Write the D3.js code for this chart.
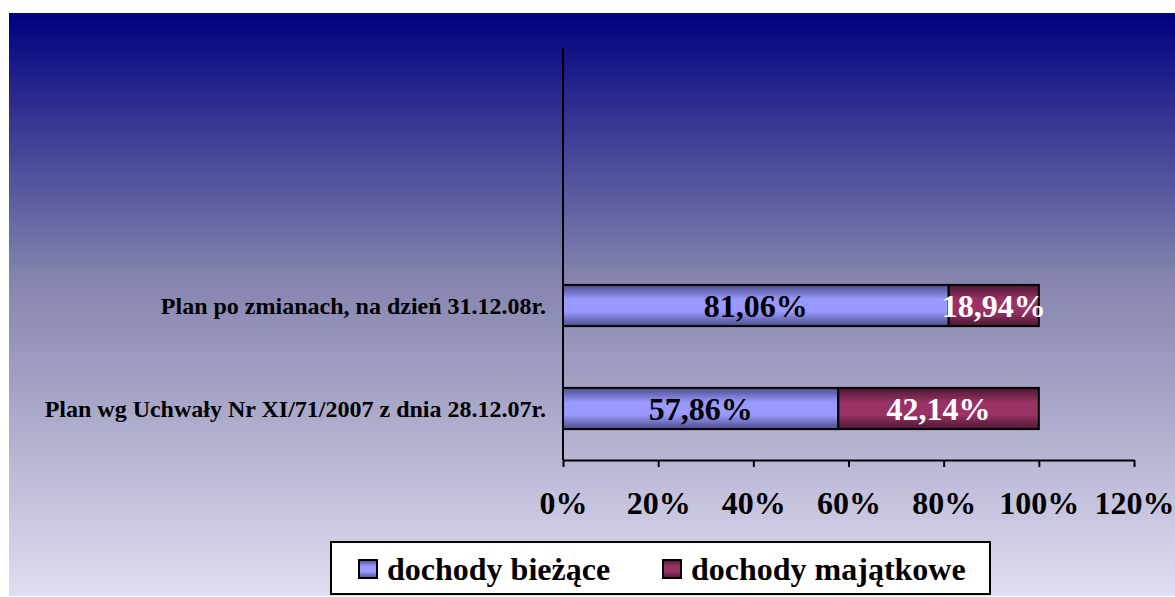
<!DOCTYPE html>
<html><head><meta charset="utf-8">
<script src="https://cdn.jsdelivr.net/npm/d3@7"></script>
<style>html,body{margin:0;padding:0;background:#fff;}svg{display:block;}</style>
</head><body>
<script>
const categories = ["Plan wg Uchwały Nr XI/71/2007 z dnia 28.12.07r.", "Plan po zmianach, na dzień 31.12.08r."];
const seriesNames = ["dochody bieżące", "dochody majątkowe"];
const biezace = [57.86, 81.06];
const majatkowe = [42.14, 18.94];
const tickValues = [0, 20, 40, 60, 80, 100, 120];
const labelText = v => v.toFixed(2).replace(".", ",") + "%";

const W = 1175, H = 597;
const svg = d3.select("body").append("svg").attr("width", W).attr("height", H);
const defs = svg.append("defs");
const bg = defs.append("linearGradient").attr("id","bg").attr("x1",0).attr("y1",0).attr("x2",0).attr("y2",1);
bg.append("stop").attr("offset","0%").attr("stop-color","#000080");
bg.append("stop").attr("offset","45%").attr("stop-color","#8383AE");
bg.append("stop").attr("offset","100%").attr("stop-color","#E0DDF0");
function barGrad(id, edge, mid){
  const g = defs.append("linearGradient").attr("id",id).attr("x1",0).attr("y1",0).attr("x2",0).attr("y2",1);
  g.append("stop").attr("offset","0%").attr("stop-color",edge);
  g.append("stop").attr("offset","35%").attr("stop-color",mid);
  g.append("stop").attr("offset","65%").attr("stop-color",mid);
  g.append("stop").attr("offset","100%").attr("stop-color",edge);
}
barGrad("gb","#4C4C88","#9999FF");
barGrad("gm","#4A1830","#993366");
const colors = ["url(#gb)","url(#gm)"];

svg.append("rect").attr("x",9).attr("y",13).attr("width",W-9).attr("height",H-14).attr("fill","url(#bg)");

const x0 = 563, x1 = 1134, yAxis = 460, yTop = 48;
const x = d3.scaleLinear().domain([0,120]).range([x0,x1]);
const step = (yAxis - yTop)/4;
const y = d3.scaleBand().domain([categories[1], categories[0]]).range([yAxis - 2*step, yAxis]).paddingInner(0.6).paddingOuter(0.3);

const font = "'Liberation Serif','Times New Roman',serif";

// bars
const data = categories.map((c,i)=>({c, vals:[biezace[i], majatkowe[i]]}));
data.forEach(d=>{
  let acc = 0;
  d.vals.forEach((v,k)=>{
    svg.append("rect").attr("x",x(acc)).attr("y",y(d.c)).attr("width",x(acc+v)-x(acc)).attr("height",y.bandwidth())
      .attr("fill",colors[k]).attr("stroke","#000").attr("stroke-width",2);
    acc += v;
  });
  acc = 0;
  d.vals.forEach((v,k)=>{
    svg.append("text").attr("x",(x(acc)+x(acc+v))/2).attr("y",y(d.c)+y.bandwidth()/2).attr("dy","0.35em")
      .attr("text-anchor","middle").attr("font-family",font).attr("font-weight","bold").attr("font-size",32)
      .attr("fill", k===0 ? "#000" : "#fff").text(labelText(v));
    acc += v;
  });
});

// y axis line
svg.append("line").attr("x1",x0).attr("x2",x0).attr("y1",yTop).attr("y2",yAxis).attr("stroke","#000").attr("stroke-width",2);
// category labels
categories.forEach(c=>{
  svg.append("text").attr("x",x0-17).attr("y",y(c)+y.bandwidth()/2).attr("dy","0.35em").attr("text-anchor","end")
    .attr("font-family",font).attr("font-weight","bold").attr("font-size",24).attr("fill","#000").text(c);
});

// x axis
const xg = svg.append("g").attr("transform",`translate(0,${yAxis})`)
  .call(d3.axisBottom(x).tickValues(tickValues).tickSize(7).tickSizeOuter(0).tickPadding(24).tickFormat(d=>d+"%"));
xg.select(".domain").attr("stroke","#000").attr("stroke-width",2);
xg.selectAll(".tick line").attr("stroke","#000").attr("stroke-width",2);
xg.selectAll(".tick text").attr("font-family",font).attr("font-weight","bold").attr("font-size",32).attr("fill","#000").attr("dy","0.71em");

// legend
const lg = svg.append("g");
lg.append("rect").attr("x",331).attr("y",542).attr("width",659).attr("height",52).attr("fill","#fff").attr("stroke","#000").attr("stroke-width",2);
const legX = [359, 663];
seriesNames.forEach((n,k)=>{
  lg.append("rect").attr("x",legX[k]).attr("y",560).attr("width",18).attr("height",18).attr("fill",colors[k]).attr("stroke","#000").attr("stroke-width",2);
  lg.append("text").attr("x",legX[k]+28).attr("y",569).attr("dy","0.35em").attr("font-family",font).attr("font-weight","bold").attr("font-size",32).attr("fill","#000").text(n);
});
</script>
</body></html>
